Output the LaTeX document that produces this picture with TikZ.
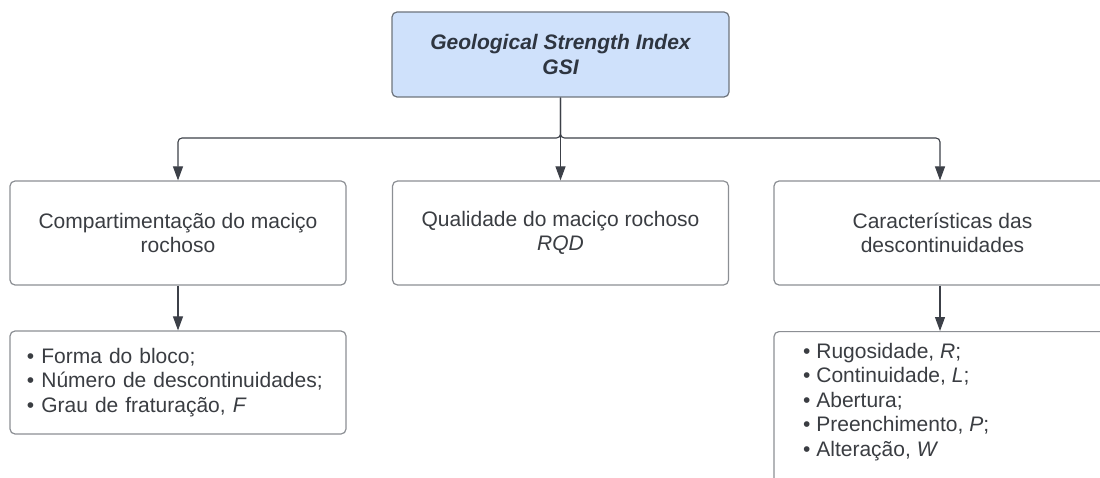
\documentclass[tikz,border=0pt]{standalone}
\usepackage{fontspec}
\setmainfont{Liberation Sans}
\usetikzlibrary{arrows.meta}
\definecolor{boxline}{HTML}{8C8F94}
\definecolor{topfill}{HTML}{CFE1FB}
\definecolor{topline}{HTML}{6E747D}
\definecolor{txt}{HTML}{3A3D42}
\definecolor{titletxt}{HTML}{2E3540}
\definecolor{wire}{HTML}{3C4048}
\begin{document}
\begin{tikzpicture}[x=1pt,y=-1pt,
  every node/.style={font=\fontsize{21}{24.5}\selectfont, text=txt},
  box/.style={draw=boxline, line width=1.2pt, rounded corners=5pt, fill=white,
    minimum width=336pt, align=center, inner sep=0pt},
  titlebox/.style={box, fill=topfill, draw=topline, minimum width=337pt,
    minimum height=85pt, text=titletxt, font=\fontsize{21}{25}\selectfont\bfseries\itshape},
  catbox/.style={box, minimum height=104pt},
  listbox/.style={box, minimum height=103pt, text width=302pt, align=left, inner xsep=17pt},
  conn/.style={draw=wire, line width=1.1pt, rounded corners=4pt,
    -{Triangle[length=14pt,width=10pt]}}]
  \useasboundingbox (0,0) rectangle (1100,478);
  \clip (0,0) rectangle (1100,478);

  % root
  \node[titlebox] (gsi) at (560.5,54.5) {Geological Strength Index\\GSI};

  % three groups of parameters
  \node[catbox] (comp) at (178,233) {Compartimentação do maciço\\rochoso};
  \node[catbox] (qual) at (560.5,233) {Qualidade do maciço rochoso\\\textit{RQD}};
  \node[catbox, minimum width=337pt] (desc) at (942.5,233) {Características das\\descontinuidades};

  % detail lists
  \node[listbox] (listl) at (178,382.5) {• Forma do bloco;\\• Número de descontinuidades;\\• Grau de fraturação, \textit{F}};
  \node[box, minimum width=337pt, minimum height=170pt, anchor=north] (boxr) at (942.5,331) {};
  \node[anchor=north west, align=left, inner sep=0pt] (listr) at (803,343)
    {• Rugosidade, \textit{R};\\• Continuidade, \textit{L};\\• Abertura;\\• Preenchimento, \textit{P};\\• Alteração, \textit{W}};

  % connectors
  \coordinate (jl) at (178,138);
  \coordinate (jr) at (940,138);
  \draw[conn] (gsi.south) |- (jl) -- (comp.north);
  \draw[conn] (gsi.south) |- (jr) -- (jr |- desc.north);
  \draw[conn] (gsi.south) -- (qual.north);
  \draw[conn] (comp.south) -- (listl.north);
  \draw[conn] (jr |- desc.south) -- (jr |- boxr.north);
\end{tikzpicture}
\end{document}
